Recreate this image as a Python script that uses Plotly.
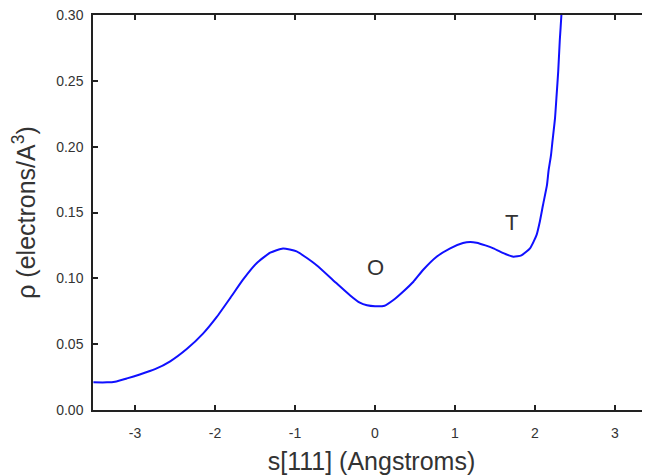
import plotly.graph_objects as go

# Data
s_values = [-3.52, -3.35, -3.25, -3.10, -2.94, -2.75, -2.56, -2.35, -2.15, -1.98,
            -1.81, -1.65, -1.48, -1.31, -1.15, -0.98, -0.73, -0.48, -0.31, -0.19,
            -0.10, 0.0, 0.12, 0.23, 0.35, 0.48, 0.60, 0.77, 0.94, 1.10,
            1.19, 1.27, 1.38, 1.48, 1.63, 1.73, 1.83, 1.94, 2.02, 2.06,
            2.10, 2.15, 2.17, 2.20, 2.22, 2.25, 2.27, 2.29, 2.31, 2.33, 2.34]
rho_values = [0.021, 0.021, 0.0215, 0.024, 0.027, 0.031, 0.037, 0.0465, 0.058, 0.0705,
              0.085, 0.099, 0.1115, 0.1195, 0.1227, 0.1205, 0.110, 0.0962, 0.087, 0.0815,
              0.0795, 0.0788, 0.0792, 0.0835, 0.0898, 0.0974, 0.1063, 0.1164, 0.1228, 0.1268,
              0.1276, 0.127, 0.125, 0.1228, 0.1185, 0.1164, 0.1175, 0.123, 0.133, 0.143,
              0.1557, 0.171, 0.182, 0.1936, 0.205, 0.2215, 0.239, 0.257, 0.281, 0.30, 0.32]

x_ticks = [-3, -2, -1, 0, 1, 2, 3]
y_ticks = [0.00, 0.05, 0.10, 0.15, 0.20, 0.25, 0.30]

labels = ["O", "T"]
label_x = [0.0, 1.70]
label_y = [0.1086, 0.1427]

FONT = "Liberation Sans, Arial, sans-serif"

fig = go.Figure()
fig.add_trace(go.Scatter(
    x=s_values, y=rho_values, mode="lines",
    line=dict(color="#1010ff", width=2, shape="spline", smoothing=0.5),
    hoverinfo="skip", showlegend=False,
))
# invisible trace to anchor the right-hand tick axis
fig.add_trace(go.Scatter(x=[s_values[0]], y=[rho_values[0]], yaxis="y2",
                         mode="markers", marker=dict(opacity=0),
                         hoverinfo="skip", showlegend=False))

for t, x, y in zip(labels, label_x, label_y):
    fig.add_annotation(x=x, y=y, text=t, showarrow=False,
                       font=dict(family=FONT, size=22, color="#333"))

fig.update_layout(
    width=642, height=467,
    margin=dict(l=85, r=0, t=7, b=65, autoexpand=False),
    paper_bgcolor="white", plot_bgcolor="white",
    font=dict(family=FONT, color="#333"),
    xaxis=dict(
        range=[-3.525, 3.4375], tickvals=x_ticks,
        ticktext=[str(v) for v in x_ticks],
        ticks="inside", ticklen=5, tickwidth=1.5, tickcolor="#222",
        showline=True, linecolor="#222", linewidth=1.5, mirror="ticks",
        showgrid=False, zeroline=False, automargin=False,
        tickfont=dict(size=14, color="#333"), ticklabelstandoff=9,
        title=dict(text="s[111] (Angstroms)", standoff=13,
                   font=dict(size=25, color="#333")),
    ),
    yaxis=dict(
        range=[0, 0.30001], tickvals=y_ticks, tickformat=".2f",
        ticks="inside", ticklen=5, tickwidth=1.5, tickcolor="#222",
        showline=True, linecolor="#222", linewidth=1.5,
        showgrid=False, zeroline=False, automargin=False,
        ticklabeloverflow="allow",
        tickfont=dict(size=14, color="#333"), ticklabelstandoff=5,
        title=dict(text="ρ (electrons/A<sup>3</sup>)", standoff=14,
                   font=dict(size=25, color="#333")),
    ),
    yaxis2=dict(
        range=[0, 0.30001], tickvals=y_ticks, overlaying="y", side="right",
        ticks="inside", ticklen=3, tickwidth=1.5, tickcolor="#222",
        showticklabels=False, showline=False, showgrid=False, zeroline=False,
        automargin=False,
    ),
)

fig.write_html("out.html")
